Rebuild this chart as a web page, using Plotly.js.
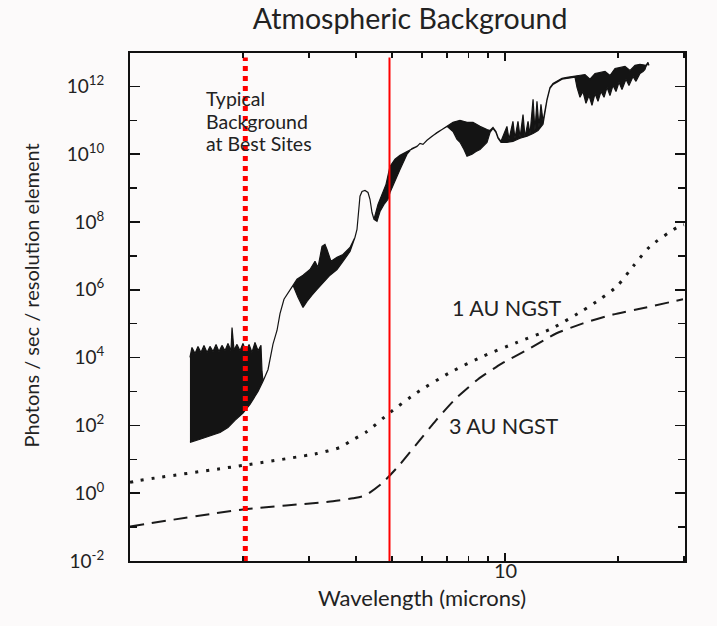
<!DOCTYPE html>
<html>
<head>
<meta charset="utf-8">
<script src="https://cdn.plot.ly/plotly-3.0.1.min.js"></script>
<style>html,body{margin:0;padding:0;background:#fcfafa;}</style>
</head>
<body>
<div id="chart" style="width:717px;height:626px;"></div>
<script>
// ---- Atmospheric background spectrum: upper and lower envelopes
// wavelength in microns, photons given as log10(photons / sec / resolution element)
const bgUpperWave = [1.445,1.463,1.491,1.518,1.546,1.575,1.605,1.634,1.665,1.696,
  1.727,1.759,1.792,1.825,1.859,1.871,1.894,1.929,1.965,2.001,
  2.039,2.077,2.115,2.154,2.195,2.235,2.249,2.263,2.334,2.406,
  2.466,2.512,2.574,2.671,2.721,2.788,2.893,3.020,3.114,3.172,
  3.251,3.311,3.352,3.436,3.565,3.698,3.861,3.981,4.030,4.080,
  4.105,4.156,4.233,4.312,4.365,4.419,4.474,4.585,4.699,4.816,
  4.935,5.089,5.248,5.479,5.649,5.825,5.934,6.044,6.194,6.388,
  6.587,6.792,7.004,7.267,7.586,7.919,8.216,8.577,8.954,9.120,
  9.290,9.462,9.579,9.757,10.12,10.25,10.50,10.63,10.83,10.97,
  11.17,11.31,11.52,11.66,11.88,12.02,12.17,12.32,12.47,12.63,
  12.94,13.18,13.43,13.76,14.19,14.63,15.37,16.34,16.85,17.38,
  18.48,19.05,19.65,20.89,21.55,22.22,22.91,23.62,23.77,24.06,
  24.21];
const bgUpperLog = [4.01,4.30,4.12,4.33,4.15,4.36,4.15,4.33,4.18,4.39,
  4.18,4.36,4.20,4.42,4.20,4.89,4.22,4.39,4.20,4.42,
  4.18,4.39,4.15,4.45,4.20,4.36,3.60,3.30,3.65,4.40,
  4.80,5.30,5.72,5.98,6.13,6.31,6.43,6.60,6.84,6.66,
  7.28,7.34,7.19,6.84,6.96,7.04,7.25,7.55,7.78,8.37,
  8.76,8.90,8.93,8.87,8.67,8.28,8.08,8.52,8.81,9.11,
  9.64,9.85,9.97,10.08,10.17,10.23,10.32,10.29,10.41,10.53,
  10.64,10.73,10.82,10.94,11.00,10.94,10.94,10.82,10.73,10.70,
  10.79,10.67,10.50,10.38,10.82,10.44,10.97,10.47,10.97,10.50,
  11.17,10.50,10.97,10.58,11.62,10.70,11.56,10.79,11.47,10.97,
  11.62,11.97,12.09,12.15,12.24,12.27,12.30,12.35,12.21,12.38,
  12.44,12.32,12.53,12.59,12.47,12.62,12.65,12.62,12.62,12.71,
  12.65];
const bgLowerWave = [1.445,1.537,1.634,1.738,1.825,1.905,2.001,2.089,2.195,2.263,
  2.334,2.406,2.466,2.512,2.574,2.671,2.721,2.805,2.893,2.965,
  3.057,3.153,3.271,3.415,3.565,3.698,3.861,3.981,4.030,4.080,
  4.105,4.156,4.233,4.312,4.365,4.419,4.474,4.557,4.642,4.757,
  4.875,4.935,5.089,5.248,5.479,5.649,5.825,5.934,6.044,6.194,
  6.388,6.587,6.792,7.004,7.267,7.448,7.586,7.774,7.919,8.166,
  8.369,8.577,8.844,8.954,9.120,9.290,9.462,9.579,9.757,10.12,
  10.50,10.97,11.45,11.88,12.25,12.63,12.94,13.18,13.43,13.76,
  14.19,14.63,15.37,15.56,15.85,16.14,16.44,16.75,17.06,17.38,
  17.70,18.03,18.37,18.71,19.05,19.41,19.77,20.14,20.51,21.02,
  21.41,21.95,22.35,22.91,23.34,23.62,23.77,24.06,24.21];
const bgLowerLog = [1.50,1.59,1.68,1.79,1.94,2.15,2.36,2.62,3.00,3.30,
  3.65,4.40,4.80,5.30,5.72,5.98,6.13,5.78,5.48,5.66,
  5.84,6.01,6.22,6.43,6.60,6.84,7.13,7.55,7.78,8.37,
  8.76,8.90,8.93,8.87,8.67,8.28,8.08,8.02,8.31,8.52,
  8.67,8.87,9.20,9.55,10.00,10.17,10.23,10.32,10.29,10.41,
  10.53,10.64,10.73,10.82,10.67,10.44,10.35,10.14,9.94,10.00,
  10.08,10.14,10.29,10.35,10.64,10.76,10.64,10.47,10.35,10.35,
  10.38,10.47,10.53,10.61,10.70,10.88,11.59,11.94,12.06,12.12,
  12.21,12.24,12.27,11.97,11.68,11.85,11.50,11.73,11.44,11.79,
  11.56,11.85,11.68,11.97,11.73,12.03,11.85,12.12,11.91,12.21,
  12.03,12.29,12.15,12.38,12.44,12.50,12.59,12.68,12.62];

// ---- NGST backgrounds (log10 photons)
const ngst1Wave = [1.000,1.063,2.001,3.153,3.631,3.861,4.286,4.935,5.825,7.134,8.737,10.77,13.18,16.14,17.92,19.89,21.95,24.36,28.75,30.0];
const ngst1Log  = [0.32,0.38,0.82,1.17,1.35,1.53,1.82,2.38,2.97,3.56,4.04,4.45,4.83,5.39,5.72,6.10,6.69,7.28,7.84,7.92];
const ngst3Wave = [1.000,2.001,3.478,3.932,4.233,4.699,5.248,5.861,6.546,7.357,8.474,9.817,11.52,13.68,16.14,19.41,23.77,29.83];
const ngst3Log  = [-0.98,-0.48,-0.24,-0.15,-0.07,0.29,0.85,1.50,2.15,2.77,3.36,3.83,4.24,4.71,5.01,5.27,5.48,5.72];

// ---- vertical marker lines (microns) and their extent (log10 photons)
const markerWaves = [2.03, 4.92];
const markerLogRange = [-2, 12.85];

// ---- axis ticks
const yMajorExp = [-2,0,2,4,6,8,10,12];
const yMinorExp = [-1,1,3,5,7,9,11];
const xMajorTicks = [10];
const xMinorTicks = [2,3,4,5,6,7,8,9,20,30];

const pw = v => Math.pow(10, v);

const polyX = bgUpperWave.concat(bgLowerWave.slice().reverse());
const polyY = bgUpperLog.concat(bgLowerLog.slice().reverse()).map(pw);

const traces = [
  {x: polyX, y: polyY, type: 'scatter', mode: 'lines', fill: 'toself',
   fillcolor: '#141414', line: {color: '#141414', width: 1.2}, hoverinfo: 'skip'},
  {x: ngst1Wave, y: ngst1Log.map(pw), type: 'scatter', mode: 'lines',
   line: {color: '#1a1a1a', width: 3, dash: '3px,8px', shape: 'spline', smoothing: 0.6}, hoverinfo: 'skip'},
  {x: ngst3Wave, y: ngst3Log.map(pw), type: 'scatter', mode: 'lines',
   line: {color: '#1a1a1a', width: 2, dash: '14px,8px', shape: 'spline', smoothing: 0.6}, hoverinfo: 'skip'},
  {x: [markerWaves[0], markerWaves[0]], y: markerLogRange.map(pw), type: 'scatter', mode: 'lines',
   line: {color: '#ff0000', width: 5, dash: '5px,5px'}, hoverinfo: 'skip'},
  {x: [markerWaves[1], markerWaves[1]], y: markerLogRange.map(pw), type: 'scatter', mode: 'lines',
   line: {color: '#ff0000', width: 2}, hoverinfo: 'skip'}
];

const fontFam = 'Lato, "Open Sans", sans-serif';
const txt = '#222';
const layout = {
  width: 717, height: 626,
  margin: {l: 130, r: 32, t: 53, b: 65},
  paper_bgcolor: '#fcfafa', plot_bgcolor: '#fcfafa',
  showlegend: false,
  font: {family: fontFam, color: txt},
  title: {text: 'Atmospheric Background', font: {size: 28.5, family: fontFam, color: txt},
          x: 0.572, xref: 'container', xanchor: 'center', y: 0.97, yref: 'container', yanchor: 'middle'},
  xaxis: {
    type: 'log', range: [0, 1.48], showgrid: false, zeroline: false,
    showline: true, linecolor: '#111', linewidth: 2, mirror: 'ticks',
    ticks: 'inside', ticklen: 8, tickwidth: 1.5, tickcolor: '#111',
    tickmode: 'array', tickvals: xMajorTicks, ticktext: xMajorTicks.map(String),
    showticklabels: false,
    minor: {tickmode: 'array', tickvals: xMinorTicks, ticks: 'inside', ticklen: 5, tickwidth: 1.5, tickcolor: '#111', showgrid: false}
  },
  yaxis: {
    type: 'log', range: [-2, 12.985], showgrid: false, zeroline: false,
    showline: true, linecolor: '#111', linewidth: 2, mirror: 'ticks',
    ticks: 'inside', ticklen: 10, tickwidth: 1.5, tickcolor: '#111',
    tickmode: 'array', tickvals: yMajorExp.map(pw),
    ticktext: yMajorExp.map(e => '10<sup>' + e + '</sup>'),
    ticklabelstandoff: 20,
    tickfont: {size: 19, family: fontFam, color: txt},
    minor: {tickmode: 'array', tickvals: yMinorExp.map(pw), ticks: 'inside', ticklen: 7, tickwidth: 1.5, tickcolor: '#111', showgrid: false}
  },
  annotations: [
    {text: String(xMajorTicks[0]), xref: 'x', yref: 'paper', x: Math.log10(xMajorTicks[0]), y: -0.0177,
     showarrow: false, xanchor: 'center', yanchor: 'middle', font: {size: 20, family: fontFam, color: txt}},
    {text: 'Photons / sec / resolution element', xref: 'paper', yref: 'paper', x: -0.1784, y: 0.5226,
     textangle: -90, showarrow: false, font: {size: 20, family: fontFam, color: txt}, xanchor: 'center', yanchor: 'middle'},
    {text: 'Wavelength (microns)', xref: 'paper', yref: 'paper', x: 0.5261, y: -0.0709,
     showarrow: false, font: {size: 22, family: fontFam, color: txt}, xanchor: 'center', yanchor: 'middle'},
    {text: 'Typical', xref: 'paper', yref: 'paper', x: 0.1333, y: 0.9098,
     showarrow: false, xanchor: 'left', yanchor: 'middle', font: {size: 19.5, family: fontFam, color: txt}},
    {text: 'Background', xref: 'paper', yref: 'paper', x: 0.1333, y: 0.8648,
     showarrow: false, xanchor: 'left', yanchor: 'middle', font: {size: 19.5, family: fontFam, color: txt}},
    {text: 'at Best Sites', xref: 'paper', yref: 'paper', x: 0.1333, y: 0.8215,
     showarrow: false, xanchor: 'left', yanchor: 'middle', font: {size: 19.5, family: fontFam, color: txt}},
    {text: '1 AU NGST', xref: 'paper', yref: 'paper', x: 0.6787, y: 0.4974,
     showarrow: false, xanchor: 'center', yanchor: 'middle', font: {size: 21.5, family: fontFam, color: txt}},
    {text: '3 AU NGST', xref: 'paper', yref: 'paper', x: 0.6742, y: 0.2667,
     showarrow: false, xanchor: 'center', yanchor: 'middle', font: {size: 21.5, family: fontFam, color: txt}}
  ]
};

Plotly.newPlot('chart', traces, layout, {displayModeBar: false, staticPlot: true});
</script>
</body>
</html>
